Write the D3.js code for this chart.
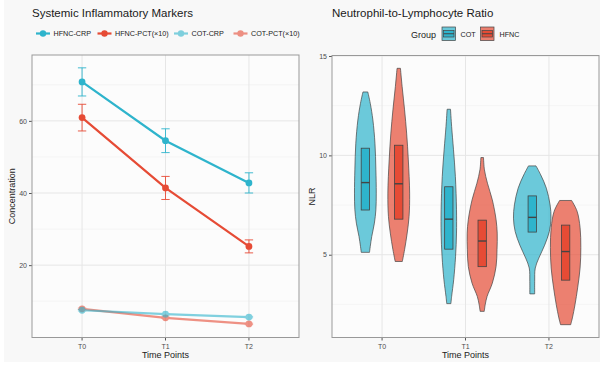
<!DOCTYPE html>
<html>
<head>
<meta charset="utf-8">
<script src="https://cdn.jsdelivr.net/npm/d3@7"></script>
<style>
  body { margin: 0; background: #fff; }
  svg { display: block; font-family: "Liberation Sans", Arial, sans-serif; }
</style>
</head>
<body>
<svg id="chart" width="600" height="365"></svg>
<script>
// ---- data: left panel (mean ± se) ----
const timePoints = ["T0", "T1", "T2"];
const markerSeries = ["HFNC-CRP", "HFNC-PCT(\u00d710)", "COT-CRP", "COT-PCT(\u00d710)"];
const hfncCrpMean = [70.8, 54.5, 42.8];
const hfncCrpSe = [3.9, 3.3, 2.8];
const hfncPctMean = [60.9, 41.4, 25.2];
const hfncPctSe = [3.7, 3.2, 1.8];
const cotCrpMean = [7.5, 6.4, 5.6];
const cotCrpSe = [0.2, 0.2, 0.2];
const cotPctMean = [7.9, 5.4, 3.7];
const cotPctSe = [0.2, 0.2, 0.2];

// ---- data: right panel (NLR violins: [value, scaled density]) ----
const groups = ["COT", "HFNC"];
const cotViolins = [
  [[13.19, .13], [12.62, .26], [11.78, .40], [10.61, .51], [9.27, .56], [8.10, .58], [7.26, .56], [6.59, .48], [5.92, .34], [5.42, .26], [5.12, .22]],
  [[12.32, .09], [11.45, .15], [10.28, .25], [8.93, .35], [7.26, .41], [6.09, .41], [4.92, .36], [3.74, .26], [2.90, .15], [2.54, .11]],
  [[9.47, .20], [9.02, .45], [8.35, .75], [7.51, .95], [6.84, 1.0], [6.17, .91], [5.48, .66], [4.83, .35], [4.33, .16], [3.66, .13], [3.03, .13]]
];
const hfncViolins = [
  [[14.38, .09], [13.46, .18], [12.29, .31], [11.12, .42], [9.77, .51], [8.10, .58], [6.93, .55], [6.09, .45], [5.25, .31], [4.66, .19]],
  [[9.89, .07], [9.27, .12], [8.60, .28], [7.76, .54], [6.76, .74], [6.09, .80], [5.25, .79], [4.41, .74], [3.57, .54], [2.90, .26], [2.48, .16], [2.15, .11]],
  [[7.73, .32], [7.19, .61], [6.36, .77], [5.36, .81], [4.33, .77], [3.33, .64], [2.49, .50], [1.82, .36], [1.48, .27]]
];
const cotQ1 = [7.25, 5.28, 6.14];
const cotMedian = [8.63, 6.79, 6.88];
const cotQ3 = [10.36, 8.42, 7.96];
const hfncQ1 = [6.79, 4.40, 3.72];
const hfncMedian = [8.57, 5.69, 5.16];
const hfncQ3 = [10.51, 6.74, 6.49];

const cyan = "#2EB4CC", red = "#E64B35";
const svg = d3.select("#chart");
svg.append("rect").attr("x", 4).attr("y", 0).attr("width", 596).attr("height", 362).attr("fill", "#f8f8f8");

function panel(x0, x1, y0, y1) {
  const g = svg.append("g");
  g.append("rect").attr("x", x0).attr("y", y0).attr("width", x1 - x0).attr("height", y1 - y0).attr("fill", "#fcfcfc");
  return g;
}

function discreteX(x0, x1) {
  // ggplot discrete expansion: 0.6 units each side
  const unit = (x1 - x0) / (timePoints.length - 1 + 1.2);
  const s = d => x0 + unit * (0.6 + timePoints.indexOf(d));
  s.unit = unit;
  return s;
}

function grid(g, y, x, x0, x1, y0, y1, major, minor) {
  g.selectAll(null).data(minor).join("line")
    .attr("x1", x0).attr("x2", x1).attr("y1", d => y(d)).attr("y2", d => y(d))
    .attr("stroke", "#f0f0f0").attr("stroke-width", 0.6);
  g.selectAll(null).data(major).join("line")
    .attr("x1", x0).attr("x2", x1).attr("y1", d => y(d)).attr("y2", d => y(d))
    .attr("stroke", "#e6e6e6").attr("stroke-width", 1);
  g.selectAll(null).data(timePoints).join("line")
    .attr("x1", d => x(d)).attr("x2", d => x(d)).attr("y1", y0).attr("y2", y1)
    .attr("stroke", "#e6e6e6").attr("stroke-width", 1);
}

function axes(g, y, x, x0, x1, y0, y1, ticks, ylab) {
  const ya = g.append("g").attr("transform", `translate(${x0},0)`)
    .call(d3.axisLeft(y).tickValues(ticks).tickSize(3).tickPadding(2));
  ya.select(".domain").remove();
  ya.selectAll("line").attr("stroke", "#555");
  ya.selectAll("text").attr("fill", "#4d4d4d").attr("font-size", 7);
  const xa = g.append("g").attr("transform", `translate(0,${y1})`);
  xa.selectAll(null).data(timePoints).join("line")
    .attr("x1", d => x(d)).attr("x2", d => x(d)).attr("y1", 0).attr("y2", 3).attr("stroke", "#555");
  xa.selectAll(null).data(timePoints).join("text")
    .attr("x", d => x(d)).attr("y", 11).attr("text-anchor", "middle")
    .attr("fill", "#4d4d4d").attr("font-size", 7).text(d => d);
  g.append("rect").attr("x", x0).attr("y", y0).attr("width", x1 - x0).attr("height", y1 - y0)
    .attr("fill", "none").attr("stroke", "#999").attr("stroke-width", 1);
  g.append("text").attr("x", (x0 + x1) / 2).attr("y", 357.5).attr("text-anchor", "middle")
    .attr("font-size", 9).attr("fill", "#222").text("Time Points");
  g.append("text").attr("transform", `translate(${x0 - 17.5},${(y0 + y1) / 2}) rotate(-90)`)
    .attr("text-anchor", "middle").attr("font-size", 9).attr("fill", "#222").text(ylab);
}

// ---------- left panel ----------
{
  const x0 = 32, x1 = 299, y0 = 55, y1 = 337.5;
  const series = [
    { name: markerSeries[0], mean: hfncCrpMean, se: hfncCrpSe, color: cyan, op: 1 },
    { name: markerSeries[1], mean: hfncPctMean, se: hfncPctSe, color: red, op: 1 },
    { name: markerSeries[2], mean: cotCrpMean, se: cotCrpSe, color: cyan, op: 0.6 },
    { name: markerSeries[3], mean: cotPctMean, se: cotPctSe, color: red, op: 0.6 }
  ];
  const lo = d3.min(series, s => d3.min(s.mean.map((m, i) => m - s.se[i])));
  const hi = d3.max(series, s => d3.max(s.mean.map((m, i) => m + s.se[i])));
  const pad = (hi - lo) * 0.05;
  const y = d3.scaleLinear().domain([lo - pad, hi + pad]).range([y1, y0]);
  const x = discreteX(x0, x1);
  const g = panel(x0, x1, y0, y1);
  grid(g, y, x, x0, x1, y0, y1, [20, 40, 60], [10, 30, 50, 70]);

  const line = d3.line().x((d, i) => x(timePoints[i])).y(d => y(d));
  const cap = x.unit * 0.05;
  series.slice().reverse().forEach(s => {
    const sg = g.append("g").attr("opacity", s.op);
    sg.append("path").attr("d", line(s.mean)).attr("fill", "none")
      .attr("stroke", s.color).attr("stroke-width", 2.2);
    s.mean.forEach((m, i) => {
      const cx = x(timePoints[i]);
      const t = y(m + s.se[i]), b = y(m - s.se[i]);
      sg.append("path").attr("d", `M${cx - cap},${t}H${cx + cap}M${cx},${t}V${b}M${cx - cap},${b}H${cx + cap}`)
        .attr("stroke", s.color).attr("stroke-width", 0.9).attr("fill", "none");
      sg.append("circle").attr("cx", cx).attr("cy", y(m)).attr("r", 3.4).attr("fill", s.color);
    });
  });
  axes(g, y, x, x0, x1, y0, y1, [20, 40, 60], "Concentration");

  g.append("text").attr("x", 32).attr("y", 16.5).attr("font-size", 11.5).attr("fill", "#1a1a1a")
    .text("Systemic Inflammatory Markers");
  const legX = [36, 97.5, 174, 233.5];
  series.forEach((s, i) => {
    const lg = g.append("g").attr("transform", `translate(${legX[i]},33.5)`).attr("opacity", s.op);
    lg.append("line").attr("x1", 0).attr("x2", 14).attr("stroke", s.color).attr("stroke-width", 2.2);
    lg.append("circle").attr("cx", 7).attr("r", 3.2).attr("fill", s.color);
    g.append("text").attr("x", legX[i] + 17.5).attr("y", 36).attr("font-size", 7.2).attr("fill", "#222").text(s.name);
  });
}

// ---------- right panel ----------
{
  const x0 = 332, x1 = 599, y0 = 55.5, y1 = 337.5;
  const all = cotViolins.concat(hfncViolins).flat().map(d => d[0]);
  const lo = d3.min(all), hi = d3.max(all), pad = (hi - lo) * 0.05;
  const y = d3.scaleLinear().domain([lo - pad, hi + pad]).range([y1, y0]);
  const x = discreteX(x0, x1);
  const g = panel(x0, x1, y0, y1);
  grid(g, y, x, x0, x1, y0, y1, [5, 10, 15], [2.5, 7.5, 12.5]);

  const dodge = 0.2 * x.unit, halfMax = 0.225 * x.unit, boxHalf = 0.05 * x.unit;
  const sets = [
    { grp: groups[0], v: cotViolins, q1: cotQ1, med: cotMedian, q3: cotQ3, color: cyan, off: -dodge },
    { grp: groups[1], v: hfncViolins, q1: hfncQ1, med: hfncMedian, q3: hfncQ3, color: red, off: dodge }
  ];
  sets.forEach(s => {
    timePoints.forEach((t, i) => {
      const cx = x(t) + s.off;
      const area = d3.area().curve(d3.curveCatmullRom)
        .y(d => y(d[0])).x0(d => cx - d[1] * halfMax).x1(d => cx + d[1] * halfMax);
      g.append("path").attr("d", area(s.v[i])).attr("fill", s.color).attr("fill-opacity", 0.7)
        .attr("stroke", "#444").attr("stroke-width", 0.7);
      g.append("rect").attr("x", cx - boxHalf).attr("width", boxHalf * 2)
        .attr("y", y(s.q3[i])).attr("height", y(s.q1[i]) - y(s.q3[i]))
        .attr("fill", s.color).attr("stroke", "#444").attr("stroke-width", 0.8);
      g.append("line").attr("x1", cx - boxHalf).attr("x2", cx + boxHalf)
        .attr("y1", y(s.med[i])).attr("y2", y(s.med[i])).attr("stroke", "#444").attr("stroke-width", 1.4);
    });
  });
  axes(g, y, x, x0, x1, y0, y1, [5, 10, 15], "NLR");

  g.append("text").attr("x", 332).attr("y", 16.5).attr("font-size", 11.5).attr("fill", "#1a1a1a")
    .text("Neutrophil-to-Lymphocyte Ratio");
  g.append("text").attr("x", 411).attr("y", 38).attr("font-size", 9).attr("fill", "#222").text("Group");
  const keyX = [442, 480.5], labX = [460.5, 499.5];
  sets.forEach((s, i) => {
    const k = g.append("g").attr("transform", `translate(${keyX[i]},27)`);
    k.append("rect").attr("width", 13.5).attr("height", 13.5).attr("fill", s.color).attr("fill-opacity", 0.7)
      .attr("stroke", "#444").attr("stroke-width", 0.7);
    k.append("rect").attr("x", 1.5).attr("y", 3.5).attr("width", 10.5).attr("height", 6.5)
      .attr("fill", s.color).attr("stroke", "#444").attr("stroke-width", 0.7);
    k.append("line").attr("x1", 1.5).attr("x2", 12).attr("y1", 6.75).attr("y2", 6.75)
      .attr("stroke", "#444").attr("stroke-width", 1);
    g.append("text").attr("x", labX[i]).attr("y", 36.5).attr("font-size", 7.2).attr("fill", "#222").text(s.grp);
  });
}
</script>
</body>
</html>
